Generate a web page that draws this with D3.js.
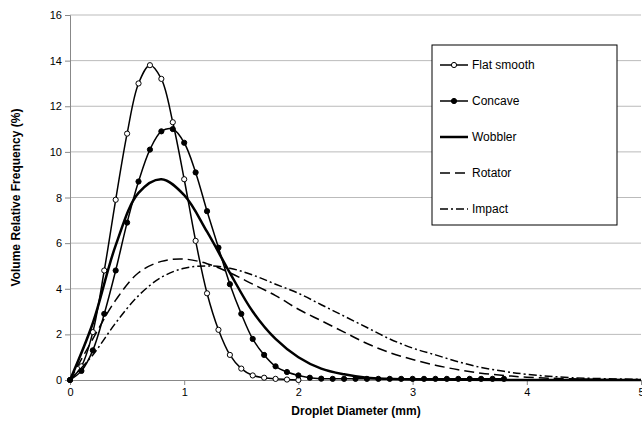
<!DOCTYPE html>
<html><head><meta charset="utf-8">
<script src="https://cdn.jsdelivr.net/npm/d3@7"></script>
<style>body{margin:0;background:#fff}text{font-family:"Liberation Sans",Arial,sans-serif}</style>
</head><body><svg width="642" height="443"></svg>
<script>
const xFlat = d3.range(0, 2.01, 0.1);
const flat = [0,0.6,2.1,4.8,7.9,10.8,13,13.8,13.2,11.3,8.8,6.1,3.8,2.2,1.1,0.5,0.2,0.1,0.05,0.02,0];
const xConc = d3.range(0, 3.81, 0.1);
const concave = [0,0.4,1.3,2.9,4.8,6.9,8.7,10.1,10.9,11.0,10.4,9.1,7.4,5.8,4.2,2.9,1.8,1.1,0.6,0.35,0.2,0.1,0.06,0.05,0.05,0.05,0.05,0.05,0.05,0.05,0.05,0.05,0.05,0.05,0.05,0.05,0.05,0.05,0.05];
const xWob = [0,0.2,0.4,0.6,0.8,1.0,1.2,1.4,1.6,1.8,2.0,2.2,2.4,2.6,2.8,3.0,5.0];
const wobbler = [0,2.5,5.9,8.2,8.8,8.1,6.5,4.7,3.0,1.8,1.0,0.5,0.25,0.1,0.05,0.02,0];
const xRot = [0,0.2,0.4,0.6,0.8,1.0,1.2,1.4,1.6,1.8,2.0,2.2,2.4,2.6,2.8,3.0,3.2,3.4,3.6,3.8,4.0,4.4,5.0];
const rotator = [0,1.8,3.5,4.7,5.2,5.3,5.1,4.7,4.2,3.7,3.1,2.6,2.1,1.6,1.2,0.9,0.65,0.45,0.3,0.2,0.12,0.05,0];
const xImp = [0,0.2,0.4,0.6,0.8,1.0,1.2,1.4,1.6,1.8,2.0,2.2,2.4,2.6,2.8,3.0,3.2,3.4,3.6,3.8,4.0,4.4,5.0];
const impact = [0,1.1,2.5,3.7,4.5,4.9,5.0,4.9,4.6,4.2,3.8,3.3,2.8,2.3,1.8,1.4,1.1,0.8,0.55,0.38,0.25,0.1,0.03];

const svg = d3.select("svg");
const m = {l:70, r:1, t:15, b:63};
const W = 642, H = 443;
const x = d3.scaleLinear().domain([0,5]).range([m.l, W-m.r]);
const y = d3.scaleLinear().domain([0,16]).range([H-m.b, m.t]);

svg.append("g").selectAll("line").data(d3.range(2,17,2)).join("line")
  .attr("x1", m.l).attr("x2", W-m.r).attr("y1", d=>y(d)).attr("y2", d=>y(d))
  .attr("stroke", "#bbb").attr("stroke-width", 1);

const xa = svg.append("g").attr("transform", `translate(0,${y(0)})`)
  .call(d3.axisBottom(x).ticks(5).tickSize(5).tickFormat(d3.format("d")));
const ya = svg.append("g").attr("transform", `translate(${m.l},0)`)
  .call(d3.axisLeft(y).tickValues(d3.range(0,17,2)).tickSize(5));
[xa, ya].forEach(a => { a.selectAll("text").attr("font-size", 11).attr("fill","#000"); a.select(".domain").attr("stroke","#888"); a.selectAll(".tick line").attr("stroke","#888"); });

const line = d3.line().x(d=>x(d[0])).y(d=>y(d[1])).curve(d3.curveCatmullRom);
const series = [
  {name:"Flat smooth", xs:xFlat, ys:flat, w:1.5, dash:null, marker:"open"},
  {name:"Concave", xs:xConc, ys:concave, w:1.5, dash:null, marker:"filled"},
  {name:"Wobbler", xs:xWob, ys:wobbler, w:2.5, dash:null},
  {name:"Rotator", xs:xRot, ys:rotator, w:1.5, dash:"10,5"},
  {name:"Impact", xs:xImp, ys:impact, w:1.5, dash:"8,3,2,3"}
];
series.forEach(s => {
  const pts = s.xs.map((v,i)=>[v, s.ys[i]]);
  svg.append("path").attr("d", line(pts)).attr("fill","none").attr("stroke","#000")
    .attr("stroke-width", s.w).attr("stroke-dasharray", s.dash);
  if (s.marker) svg.append("g").selectAll("circle").data(pts).join("circle")
    .attr("cx", d=>x(d[0])).attr("cy", d=>y(d[1])).attr("r", 2.6)
    .attr("fill", s.marker==="open" ? "#fff" : "#000").attr("stroke","#000").attr("stroke-width",1);
});

const lg = svg.append("g").attr("transform","translate(432,45)");
lg.append("rect").attr("width",185).attr("height",180).attr("fill","#fff").attr("stroke","#000");
series.forEach((s,i) => {
  const yy = 20 + i*36;
  lg.append("line").attr("x1",8).attr("x2",36).attr("y1",yy).attr("y2",yy)
    .attr("stroke","#000").attr("stroke-width",s.w).attr("stroke-dasharray",s.dash);
  if (s.marker) lg.append("circle").attr("cx",22).attr("cy",yy).attr("r",2.6)
    .attr("fill", s.marker==="open" ? "#fff" : "#000").attr("stroke","#000");
  lg.append("text").attr("x",40).attr("y",yy+4).attr("font-size",12).text(s.name);
});

svg.append("text").attr("x", (m.l+W)/2).attr("y", 415).attr("text-anchor","middle")
  .attr("font-size",12).attr("font-weight","bold").text("Droplet Diameter (mm)");
svg.append("text").attr("transform",`translate(20,${(m.t+H-m.b)/2}) rotate(-90)`).attr("text-anchor","middle")
  .attr("font-size",12).attr("font-weight","bold").text("Volume Relative Frequency (%)");
</script></body></html>
